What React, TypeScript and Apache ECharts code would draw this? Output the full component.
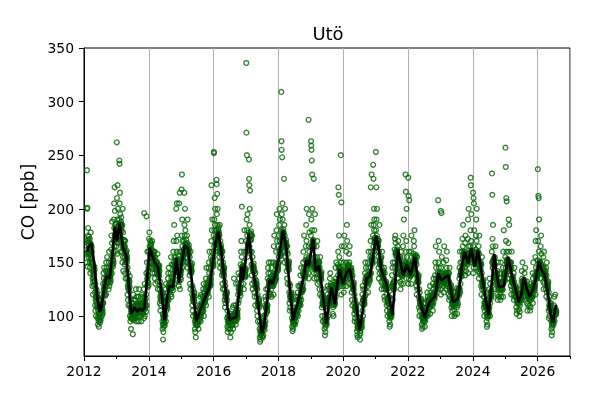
import React, { useEffect, useRef } from "react";
import * as echarts from "echarts";

const years = [2012, 2013, 2014, 2015, 2016, 2017, 2018, 2019, 2020, 2021, 2022, 2023, 2024, 2025, 2026];
const xTicks = [2012, 2014, 2016, 2018, 2020, 2022, 2024, 2026];
const yTicks = [100, 150, 200, 250, 300, 350];

// CO observations, one string per month (Jan..Dec), ppb
const co2012 = [
  "",
  "150 236 162 200 201 171 158 146 168 175 182 160 155 166 171 159 174 163 169 157",
  "163 150 172 145 158 140 168 155 178 161 157 166 153 149 164 160 151",
  "142 128 150 135 120 147 132 138 141 136 144 129 139 146 133 143",
  "122 110 130 105 115 126 100 118 119 113 124 116 108 121 111 117",
  "98 110 92 105 100 115 95 108 90 103 101 97 106 99 104 94",
  "102 115 96 110 120 105 99 112 107 104 109 111 101 106 113 103",
  "118 130 112 140 125 135 120 145 124 127 122 129 131 119 126 133",
  "128 142 120 150 135 145 130 138 155 133 137 141 131 136 139 134",
  "140 125 150 132 160 145 128 138 134 137 141 131 136 143 133 139",
  "145 162 175 150 140 168 188 155 148 152 157 146 153 159 151 149",
  "170 190 205 182 165 220 175 198 160 185 177 181 173 186 179 172 183",
];
const co2013 = [
  "165 180 262 210 175 158 190 222 168 200 172 177 169 183 174 171 186",
  "190 245 242 205 178 215 170 195 185 160 184 188 181 192 186 179 183",
  "172 160 185 150 165 200 155 178 142 167 163 170 166 161 171 164",
  "155 148 165 140 170 150 135 160 157 152 159 154 161 150 156 153",
  "135 120 145 128 115 140 125 110 131 126 134 129 123 132 127 137",
  "100 110 95 108 115 98 88 105 102 104 99 106 101 97 103 107",
  "104 83 112 98 120 108 96 115 102 105 109 103 107 101 106 110",
  "108 115 98 125 102 110 95 118 105 107 103 109 104 111 106 100",
  "105 112 100 118 95 108 125 110 107 109 104 111 106 103 113 108",
  "110 100 118 105 95 112 120 104 107 109 103 111 106 108 102 113",
  "112 105 125 98 196 118 108 130 100 110 114 107 111 109 116 104",
  "120 140 193 110 150 128 135 160 133 138 127 142 131 137 145 129",
];
const co2014 = [
  "160 172 150 178 165 145 158 170 155 163 167 161 159 166 162 168",
  "150 162 145 170 155 140 158 148 153 157 151 159 154 156 149 160",
  "152 140 160 135 148 155 130 145 147 150 144 149 146 151 143 148",
  "140 150 132 158 145 125 138 148 143 141 146 139 144 137 147 142",
  "125 112 132 118 105 128 115 110 121 117 123 119 114 122 116 120",
  "95 88 102 92 78 100 85 98 90 96 94 99 93 97 91 101",
  "108 118 100 125 112 95 130 105 111 114 109 116 110 113 107 115",
  "122 135 118 140 128 115 145 125 126 129 124 131 127 123 130 128",
  "130 140 120 155 125 135 118 148 128 132 126 129 133 127 131 124",
  "148 160 135 170 150 140 185 155 130 144 147 142 146 149 143 152",
  "155 145 200 170 160 138 205 150 175 149 152 147 153 151 156 148",
  "140 128 150 205 132 160 145 215 125 138 141 136 143 139 134 142",
];
const co2015 = [
  "160 150 218 175 232 145 190 165 170 155 153 158 156 160 151 157 162",
  "170 160 215 185 175 150 200 165 180 164 168 162 167 171 163 166",
  "165 155 175 150 168 145 190 160 161 164 158 163 159 166 157 162",
  "148 138 155 130 150 142 125 160 144 146 140 145 147 141 143 149",
  "120 110 128 105 115 125 100 118 117 119 113 121 116 114 122 118",
  "95 88 102 85 92 100 80 98 96 93 97 94 99 91 95 92",
  "98 105 92 110 95 102 88 108 100 99 103 97 101 96 104 100",
  "110 102 118 95 108 120 100 112 107 109 105 111 106 110 104 108",
  "118 110 125 105 130 115 100 122 114 117 112 119 116 113 118 115",
  "125 118 135 110 130 145 120 128 123 126 121 127 124 122 129 125",
  "132 125 145 118 150 140 128 160 135 130 133 128 136 131 129 134",
  "155 145 170 222 140 180 160 150 190 148 151 146 153 149 155 147",
];
const co2016 = [
  "175 253 252 165 190 180 210 160 185 200 168 172 166 171 174 167 170",
  "180 227 223 195 170 214 185 160 200 175 177 181 174 179 176 183 178",
  "165 155 175 150 185 160 145 170 161 164 158 163 166 159 162 160",
  "148 138 155 130 160 142 125 150 141 144 139 146 140 143 137 145",
  "125 115 132 108 120 128 112 118 121 119 117 123 116 120 114 122",
  "98 90 105 85 95 100 88 92 97 96 99 94 98 95 93 97",
  "95 88 102 80 98 92 100 85 96 94 97 93 95 99 91 96",
  "100 92 108 88 102 95 110 98 135 99 97 101 96 100 98 103",
  "102 95 110 92 130 100 105 96 101 103 99 104 100 102 98 106",
  "120 130 112 140 125 115 135 128 124 122 126 121 127 123 125 119",
  "148 138 160 130 170 145 155 202 140 143 146 141 145 144 147 142",
  "140 130 150 125 160 138 180 145 139 141 136 143 138 142 137 144",
];
const co2017 = [
  "170 336 271 160 190 250 180 175 155 195 164 167 162 166 169 161 165",
  "178 246 228 222 165 185 200 170 217 160 174 177 172 176 179 171 175",
  "148 138 160 130 175 145 155 125 144 147 142 146 143 149 141 145",
  "132 122 142 118 135 128 110 140 129 131 127 130 133 126 128 130",
  "118 105 125 100 112 120 95 110 113 111 115 109 114 112 108 116",
  "88 80 95 76 85 92 82 78 86 84 87 83 89 85 81 86",
  "92 85 98 80 88 95 82 100 91 93 89 94 90 92 87 91",
  "110 100 118 95 108 115 102 125 107 109 105 111 106 108 104 110",
  "135 125 145 118 140 128 150 122 131 133 129 132 134 130 128 133",
  "130 140 120 150 135 125 145 118 131 133 129 134 130 132 128 135",
  "138 128 150 120 165 140 130 175 134 137 132 136 135 138 133 139",
  "148 140 160 135 180 150 195 145 170 144 146 142 147 143 145 149",
];
const co2018 = [
  "165 155 175 150 185 160 200 170 190 158 161 156 162 159 163 157",
  "180 309 263 255 195 175 248 170 205 190 176 179 174 181 177 173 178",
  "170 228 160 185 150 175 165 200 155 167 169 164 168 171 165 166",
  "152 142 160 135 165 148 130 158 147 149 144 150 146 148 143 151",
  "122 112 130 105 118 128 108 115 119 121 116 120 117 122 118 114",
  "98 90 105 86 95 102 88 92 96 97 94 99 95 98 93 97",
  "104 98 112 92 108 100 118 95 105 103 106 102 107 104 101 106",
  "115 108 122 100 118 110 128 105 112 114 111 115 113 110 116 112",
  "128 118 138 110 130 122 145 115 124 126 122 127 125 123 128 124",
  "140 130 150 125 160 138 145 175 137 139 135 140 138 136 141 137",
  "152 145 165 140 185 155 170 200 148 150 149 153 147 151 148 152",
  "150 140 283 165 135 195 155 178 160 147 149 145 150 148 146 151",
];
const co2019 = [
  "175 263 259 190 255 165 245 180 232 200 166 169 163 170 167 164 171",
  "150 228 140 165 135 180 155 145 195 146 148 143 149 147 144 150",
  "150 140 165 135 155 148 170 130 147 149 145 150 146 148 144 151",
  "142 132 150 125 145 138 120 155 137 139 135 140 136 138 134 141",
  "118 108 125 100 112 120 95 110 113 115 111 116 112 114 110 117",
  "95 88 100 82 92 98 85 90 95 96 93 97 94 96 92 98",
  "112 120 105 128 115 100 125 110 114 116 113 117 115 112 118 114",
  "125 135 118 140 128 115 130 122 125 127 123 128 124 126 122 129",
  "110 118 102 125 108 115 100 120 112 114 111 115 113 110 116 112",
  "132 122 145 118 135 128 150 125 129 131 127 130 128 132 126 130",
  "148 138 160 220 145 213 135 175 155 143 145 141 146 142 144 140",
  "135 250 128 150 120 206 140 165 130 134 136 132 137 133 135 131",
];
const co2020 = [
  "138 128 150 122 165 140 175 132 139 141 137 142 138 140 136 143",
  "145 135 160 128 150 185 140 170 143 145 141 146 142 144 140 147",
  "148 138 158 130 150 145 165 135 141 143 139 144 140 142 138 145",
  "132 122 142 115 135 128 110 138 127 129 125 130 126 128 124 131",
  "112 102 120 95 108 115 98 105 107 109 105 110 106 108 104 111",
  "94 86 100 82 90 96 80 88 90 92 89 93 91 88 94 90",
  "90 82 95 78 86 92 84 98 92 94 90 95 91 93 89 96",
  "112 120 105 128 115 100 125 110 114 116 112 117 113 115 111 118",
  "132 140 125 150 135 120 145 130 134 136 132 137 133 135 131 138",
  "138 128 150 122 145 135 160 130 136 138 134 139 135 137 133 140",
  "155 145 170 220 160 140 185 150 232 152 154 150 155 151 153 149",
  "175 241 165 228 185 160 200 180 190 170 172 168 173 169 171 167",
];
const co2021 = [
  "170 253 180 165 220 190 160 175 200 168 171 166 172 167 170 165",
  "155 145 170 135 160 150 185 140 150 152 148 153 149 151 147 154",
  "142 132 155 125 145 138 160 130 138 140 136 141 137 139 135 142",
  "135 125 145 118 130 140 115 128 128 130 126 131 127 129 125 132",
  "120 110 128 105 115 125 100 112 114 116 112 117 113 115 111 118",
  "102 95 108 90 100 105 92 98 102 103 100 104 101 99 105 102",
  "128 138 120 145 130 115 150 125 128 131 126 132 127 130 125 133",
  "162 150 172 145 175 158 168 140 158 160 156 161 157 159 155 162",
  "148 158 140 165 152 135 170 145 148 150 146 151 147 149 145 152",
  "142 132 155 125 148 138 160 130 140 142 138 143 139 141 137 144",
  "148 138 165 130 175 145 155 190 145 147 143 148 144 146 142 149",
  "150 232 140 216 160 170 135 200 155 146 148 144 149 145 147 143",
];
const co2022 = [
  "140 229 130 212 150 135 160 208 145 140 142 138 143 139 141 137",
  "148 138 160 130 175 145 155 140 146 148 144 149 145 147 143 150",
  "158 148 170 140 165 155 180 145 153 155 151 156 152 154 150 157",
  "138 128 148 120 140 132 155 125 134 136 132 137 133 135 131 138",
  "118 108 125 100 115 122 105 112 112 114 110 115 111 113 109 116",
  "100 92 108 88 98 104 90 95 99 101 97 102 98 100 96 103",
  "104 96 112 90 100 108 95 98 104 106 102 107 103 105 101 108",
  "114 105 122 100 110 118 102 115 112 114 110 115 111 113 109 116",
  "118 108 128 102 115 122 110 112 115 117 113 118 114 116 112 119",
  "120 110 130 105 118 125 112 135 119 121 117 122 118 120 116 123",
  "138 128 150 120 165 135 145 130 129 131 127 132 128 130 126 133",
  "140 130 208 125 150 170 135 145 160 137 139 135 140 136 138 134",
];
const co2023 = [
  "135 125 198 120 145 130 196 140 155 134 136 132 137 133 135 131",
  "138 128 150 122 140 132 165 130 135 137 133 138 134 136 132 139",
  "140 130 152 125 145 135 160 128 136 138 134 139 135 137 133 140",
  "130 120 140 115 132 125 145 118 125 127 123 128 124 126 122 129",
  "116 108 124 100 112 120 105 110 113 115 111 116 112 114 110 117",
  "115 106 122 100 112 118 102 110 115 117 113 118 114 116 112 119",
  "118 108 126 102 115 122 110 112 122 124 120 125 121 123 119 126",
  "135 145 125 160 138 122 150 130 140 142 138 143 139 141 137 144",
  "160 150 172 145 165 155 185 148 156 158 154 159 155 157 153 160",
  "155 145 168 138 175 150 160 142 152 154 150 155 151 153 149 156",
  "158 148 172 140 190 155 165 200 155 157 153 158 154 156 152 159",
  "165 155 180 229 222 170 150 195 160 158 160 156 161 157 159 155",
];
const co2024 = [
  "150 215 140 165 210 145 205 155 180 152 154 150 155 151 153 149",
  "162 150 175 145 190 160 170 200 156 158 154 159 155 157 153 160",
  "152 142 165 135 158 148 175 140 146 148 144 149 145 147 143 150",
  "138 128 148 120 140 132 155 125 130 132 128 133 129 131 127 134",
  "118 108 125 100 112 122 105 110 111 113 109 114 110 112 108 115",
  "102 95 110 90 100 106 92 98 103 104 101 105 102 100 106 103",
  "115 125 108 135 118 100 130 112 120 122 118 123 119 121 117 124",
  "160 233 150 213 172 145 165 185 150 152 148 153 149 151 147 154",
  "142 132 155 125 148 138 165 130 136 138 134 139 135 137 133 140",
  "130 120 142 115 132 125 150 118 128 130 126 131 127 129 125 132",
  "128 120 140 115 135 125 150 118 127 129 125 130 126 128 124 131",
  "132 125 145 118 160 130 140 180 136 138 134 139 135 137 133 140",
];
const co2025 = [
  "155 257 145 239 170 140 210 160 207 150 152 148 153 149 151 147",
  "152 142 168 135 190 150 160 185 146 148 144 149 145 147 143 150",
  "138 128 150 120 145 132 160 125 133 135 131 136 132 134 130 137",
  "130 120 140 115 132 125 145 118 124 126 122 127 123 125 121 128",
  "118 108 126 102 115 122 105 112 114 116 112 117 113 115 111 118",
  "115 106 124 100 112 118 104 110 118 120 116 121 117 119 115 122",
  "132 122 142 115 135 128 150 125 130 132 128 133 129 131 127 134",
  "130 120 140 115 132 125 145 118 124 126 122 127 123 125 121 128",
  "122 112 132 105 120 128 110 118 118 120 116 121 117 119 115 122",
  "120 110 130 105 118 125 108 115 120 122 118 123 119 121 117 124",
  "128 118 140 112 135 125 150 120 127 129 125 130 126 128 124 131",
  "138 128 155 120 170 135 145 180 138 140 136 141 137 139 135 142",
];
const co2026 = [
  "152 237 142 170 212 145 210 160 190 148 150 146 151 147 149 145",
  "150 140 165 135 175 148 158 140 142 144 140 145 141 143 139 146",
  "142 132 155 125 145 138 160 130 138 140 136 141 137 139 135 142",
  "135 125 145 118 138 130 150 122 128 130 126 131 127 129 125 132",
  "115 105 122 98 110 118 100 108 108 110 106 111 107 109 105 112",
  "95 88 102 82 92 98 85 90 95 96 93 97 94 96 92 98",
  "110 100 118 95 108 105 120 103 105 101 106 102 104",
];
const monthly = [co2012, co2013, co2014, co2015, co2016, co2017, co2018, co2019, co2020, co2021, co2022, co2023, co2024, co2025, co2026];

// smoothed curve (black line)
const lineYears = [
  2012.1, 2012.15, 2012.23, 2012.32, 2012.4, 2012.48, 2012.53, 2012.62, 2012.69, 2012.79, 2012.88, 2012.95,
  2013.02, 2013.1, 2013.2, 2013.3, 2013.38, 2013.46, 2013.56, 2013.65, 2013.72, 2013.8, 2013.87, 2013.95,
  2014.03, 2014.1, 2014.18, 2014.28, 2014.38, 2014.49, 2014.57, 2014.64, 2014.74, 2014.8, 2014.85, 2014.93,
  2015.02, 2015.11, 2015.21, 2015.32, 2015.4, 2015.47, 2015.55, 2015.65, 2015.75, 2015.88, 2015.98,
  2016.06, 2016.14, 2016.24, 2016.35, 2016.43, 2016.5, 2016.6, 2016.7, 2016.8, 2016.86, 2016.9, 2016.98,
  2017.08, 2017.14, 2017.21, 2017.31, 2017.4, 2017.49, 2017.56, 2017.63, 2017.73, 2017.82, 2017.9,
  2018.0, 2018.07, 2018.14, 2018.24, 2018.34, 2018.45, 2018.52, 2018.6, 2018.7, 2018.8, 2018.86, 2018.94,
  2019.07, 2019.15, 2019.25, 2019.35, 2019.48, 2019.56, 2019.64, 2019.74, 2019.82, 2019.89, 2019.99,
  2020.1, 2020.2, 2020.3, 2020.4, 2020.51, 2020.6, 2020.72, 2020.82, 2020.92,
  2021.02, 2021.1, 2021.18, 2021.33, 2021.43, 2021.52, 2021.6, 2021.69, 2021.78, 2021.85, 2021.97,
  2022.08, 2022.21, 2022.28, 2022.36, 2022.45, 2022.52, 2022.6, 2022.67, 2022.82, 2022.88, 2022.93,
  2023.03, 2023.14, 2023.24, 2023.39, 2023.54, 2023.62, 2023.68, 2023.75, 2023.85, 2023.95,
  2024.06, 2024.16, 2024.31, 2024.4, 2024.49, 2024.57, 2024.66, 2024.73, 2024.81, 2024.96,
  2025.04, 2025.09, 2025.22, 2025.32, 2025.42, 2025.5, 2025.58, 2025.67, 2025.76, 2025.86, 2025.96,
  2026.04, 2026.12, 2026.21, 2026.3, 2026.4, 2026.47, 2026.57,
];
const lineValues = [
  160, 165, 168, 148, 120, 104, 107, 125, 137, 135, 158, 183,
  170, 187, 164, 157, 130, 102, 108, 104, 107, 105, 108, 135,
  164, 157, 150, 146, 125, 96, 118, 128, 127, 140, 154, 131,
  150, 166, 163, 135, 112, 95, 102, 110, 118, 128, 150,
  168, 179, 161, 130, 108, 96, 98, 99, 125, 146, 133, 150,
  177, 160, 143, 127, 105, 84, 92, 108, 134, 130, 138,
  152, 165, 180, 164, 130, 96, 104, 112, 125, 140, 152, 147,
  172, 142, 147, 125, 93, 112, 127, 111, 130, 144, 130,
  140, 144, 130, 110, 87, 105, 135, 137, 155,
  175, 162, 143, 130, 115, 101, 130, 162, 148, 138, 148,
  138, 155, 140, 116, 105, 98, 108, 113, 118, 125, 140,
  133, 136, 138, 113, 116, 135, 150, 160, 149, 163,
  146, 161, 133, 115, 101, 125, 158, 140, 127, 128,
  145, 155, 136, 125, 113, 120, 136, 125, 118, 125, 136,
  151, 143, 139, 125, 103, 94, 110,
];

const FONT = "DejaVu Sans";

export default function App() {
  const ref = useRef<HTMLDivElement>(null);
  useEffect(() => {
    if (!ref.current) return;
    const chart = echarts.init(ref.current, null, { renderer: "svg" });
    const scatterData: number[][] = [];
    monthly.forEach((months, yi) => {
      months.forEach((s, m) => {
        const t = s.trim();
        if (!t) return;
        const vals = t.split(/\s+/).map(Number);
        vals.forEach((v, i) => {
          scatterData.push([years[yi] + (m + (i + 0.5) / vals.length) / 12, v]);
        });
      });
    });
    const lineData = lineYears.map((x, i) => [x, lineValues[i]]);
    chart.setOption({
      animation: false,
      textStyle: { fontFamily: FONT },
      grid: {
        left: 84,
        right: 30,
        top: 48,
        bottom: 44,
        show: true,
        borderColor: "#000",
        borderWidth: 1,
        backgroundColor: "transparent",
      },
      xAxis: [
        {
          type: "value",
          min: 2012,
          max: 2027,
          interval: 2,
          axisLine: { show: true, onZero: false, lineStyle: { color: "#000", width: 1 } },
          axisTick: { show: true, length: 5, lineStyle: { color: "#000" } },
          axisLabel: {
            color: "#000",
            fontSize: 13.9,
            fontFamily: FONT,
            margin: 8,
            showMaxLabel: false,
            formatter: (v: number) => (xTicks.includes(v) ? String(v) : ""),
          },
          splitLine: { show: true, lineStyle: { color: "#b0b0b0", width: 1 } },
        },
        {
          type: "value",
          min: 2012,
          max: 2027,
          interval: 1,
          position: "bottom",
          axisLine: { show: false },
          axisTick: { show: true, length: 3, lineStyle: { color: "#000" } },
          axisLabel: { show: false },
          splitLine: { show: false },
        },
      ],
      yAxis: {
        type: "value",
        min: 62.7,
        max: 350,
        axisLine: { show: true, onZero: false, lineStyle: { color: "#000", width: 1 } },
        axisTick: { show: true, length: 5, customValues: yTicks, lineStyle: { color: "#000" } },
        axisLabel: {
          color: "#000",
          fontSize: 13.9,
          fontFamily: FONT,
          margin: 10,
          customValues: yTicks,
        },
        splitLine: { show: false },
        name: "CO [ppb]",
        nameLocation: "middle",
        nameGap: 43,
        nameTextStyle: { color: "#000", fontSize: 17, fontFamily: FONT },
      },
      graphic: [
        {
          type: "text",
          x: 328,
          y: 33.8,
          style: {
            text: "Utö",
            font: `18px "${FONT}"`,
            fill: "#000",
            align: "center",
            verticalAlign: "middle",
          },
        },
      ],
      series: [
        {
          type: "scatter",
          xAxisIndex: 0,
          data: scatterData,
          symbol: "circle",
          symbolSize: 4.8,
          progressive: 0,
          large: false,
          silent: true,
          itemStyle: { color: "rgba(0,0,0,0)", borderColor: "#006400", borderWidth: 1.35 },
          z: 2,
        },
        {
          type: "line",
          xAxisIndex: 0,
          data: lineData,
          showSymbol: false,
          symbol: "none",
          silent: true,
          lineStyle: { color: "#000", width: 2.7 },
          z: 3,
        },
      ],
    });
    return () => chart.dispose();
  }, []);
  return (
    <div
      ref={ref}
      style={{ position: "fixed", left: 0, top: 0, width: 600, height: 400 }}
    />
  );
}
